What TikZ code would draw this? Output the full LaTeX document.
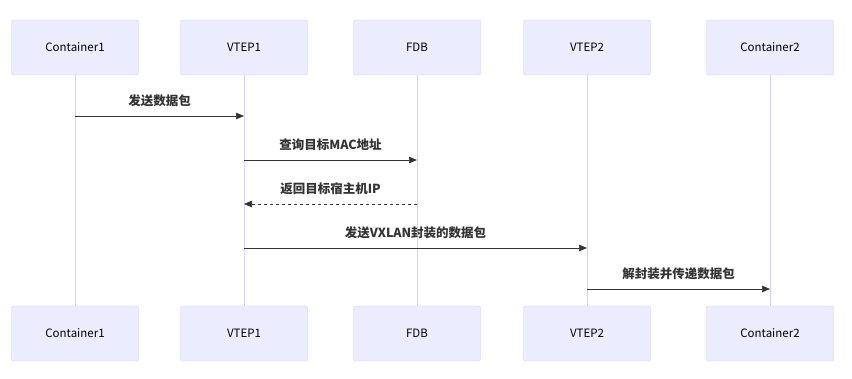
\documentclass[tikz,border=0pt]{standalone}
\usepackage{fontspec}
\setmainfont{Noto Sans CJK SC}
\usetikzlibrary{arrows.meta}
\definecolor{boxfill}{HTML}{ECECFF}
\definecolor{boxline}{HTML}{D3CCF2}
\definecolor{lifeline}{HTML}{D8D0F5}
\definecolor{msg}{HTML}{333333}
\begin{document}
\begin{tikzpicture}[x=1pt,y=-1pt,
  actor/.style={draw=boxline,fill=boxfill,rounded corners=2pt,minimum width=127pt,minimum height=55pt,inner sep=0pt,font=\fontsize{11.5}{13}\selectfont,text=black},
  life/.style={draw=lifeline,line width=0.8pt},
  msgline/.style={draw=msg,line width=0.7pt,-{Triangle[length=8pt,width=6.5pt]}},
  msglabel/.style={font=\bfseries\fontsize{12.5}{14}\selectfont,text=msg,inner sep=0pt}]
\useasboundingbox (0,0) rectangle (852,379);
\foreach \n/\x/\t in {c1/75/Container1,v1/244/VTEP1,f/417/FDB,v2/587/VTEP2,c2/770/Container2}{
  \node[actor] (\n top) at (\x,47.5) {\t};
  \node[actor] (\n bot) at (\x,333.5) {\t};
}
\foreach \n in {c1,v1,f,v2,c2}{
  \draw[life] (\n top.south) -- (\n bot.north);
}
\foreach \n/\x in {c1/75,v1/244,f/417,v2/587,c2/770}{
  \foreach \y/\k in {116/a,160/b,204/c,248/d,289/e}{
    \coordinate (\n\k) at (\x,\y);
  }
}
\draw[msgline] (c1a) -- node[msglabel,above=9pt] (m1) {发送数据包} (v1a);
\draw[msgline] (v1b) -- node[msglabel,above=9pt] (m2) {查询目标MAC地址} (fb);
\draw[msgline,dashed] (fc) -- node[msglabel,above=9pt] (m3) {返回目标宿主机IP} (v1c);
\draw[msgline] (v1d) -- node[msglabel,above=9pt] (m4) {发送VXLAN封装的数据包} (v2d);
\draw[msgline] (v2e) -- node[msglabel,above=9pt] (m5) {解封装并传递数据包} (c2e);
\end{tikzpicture}
\end{document}
